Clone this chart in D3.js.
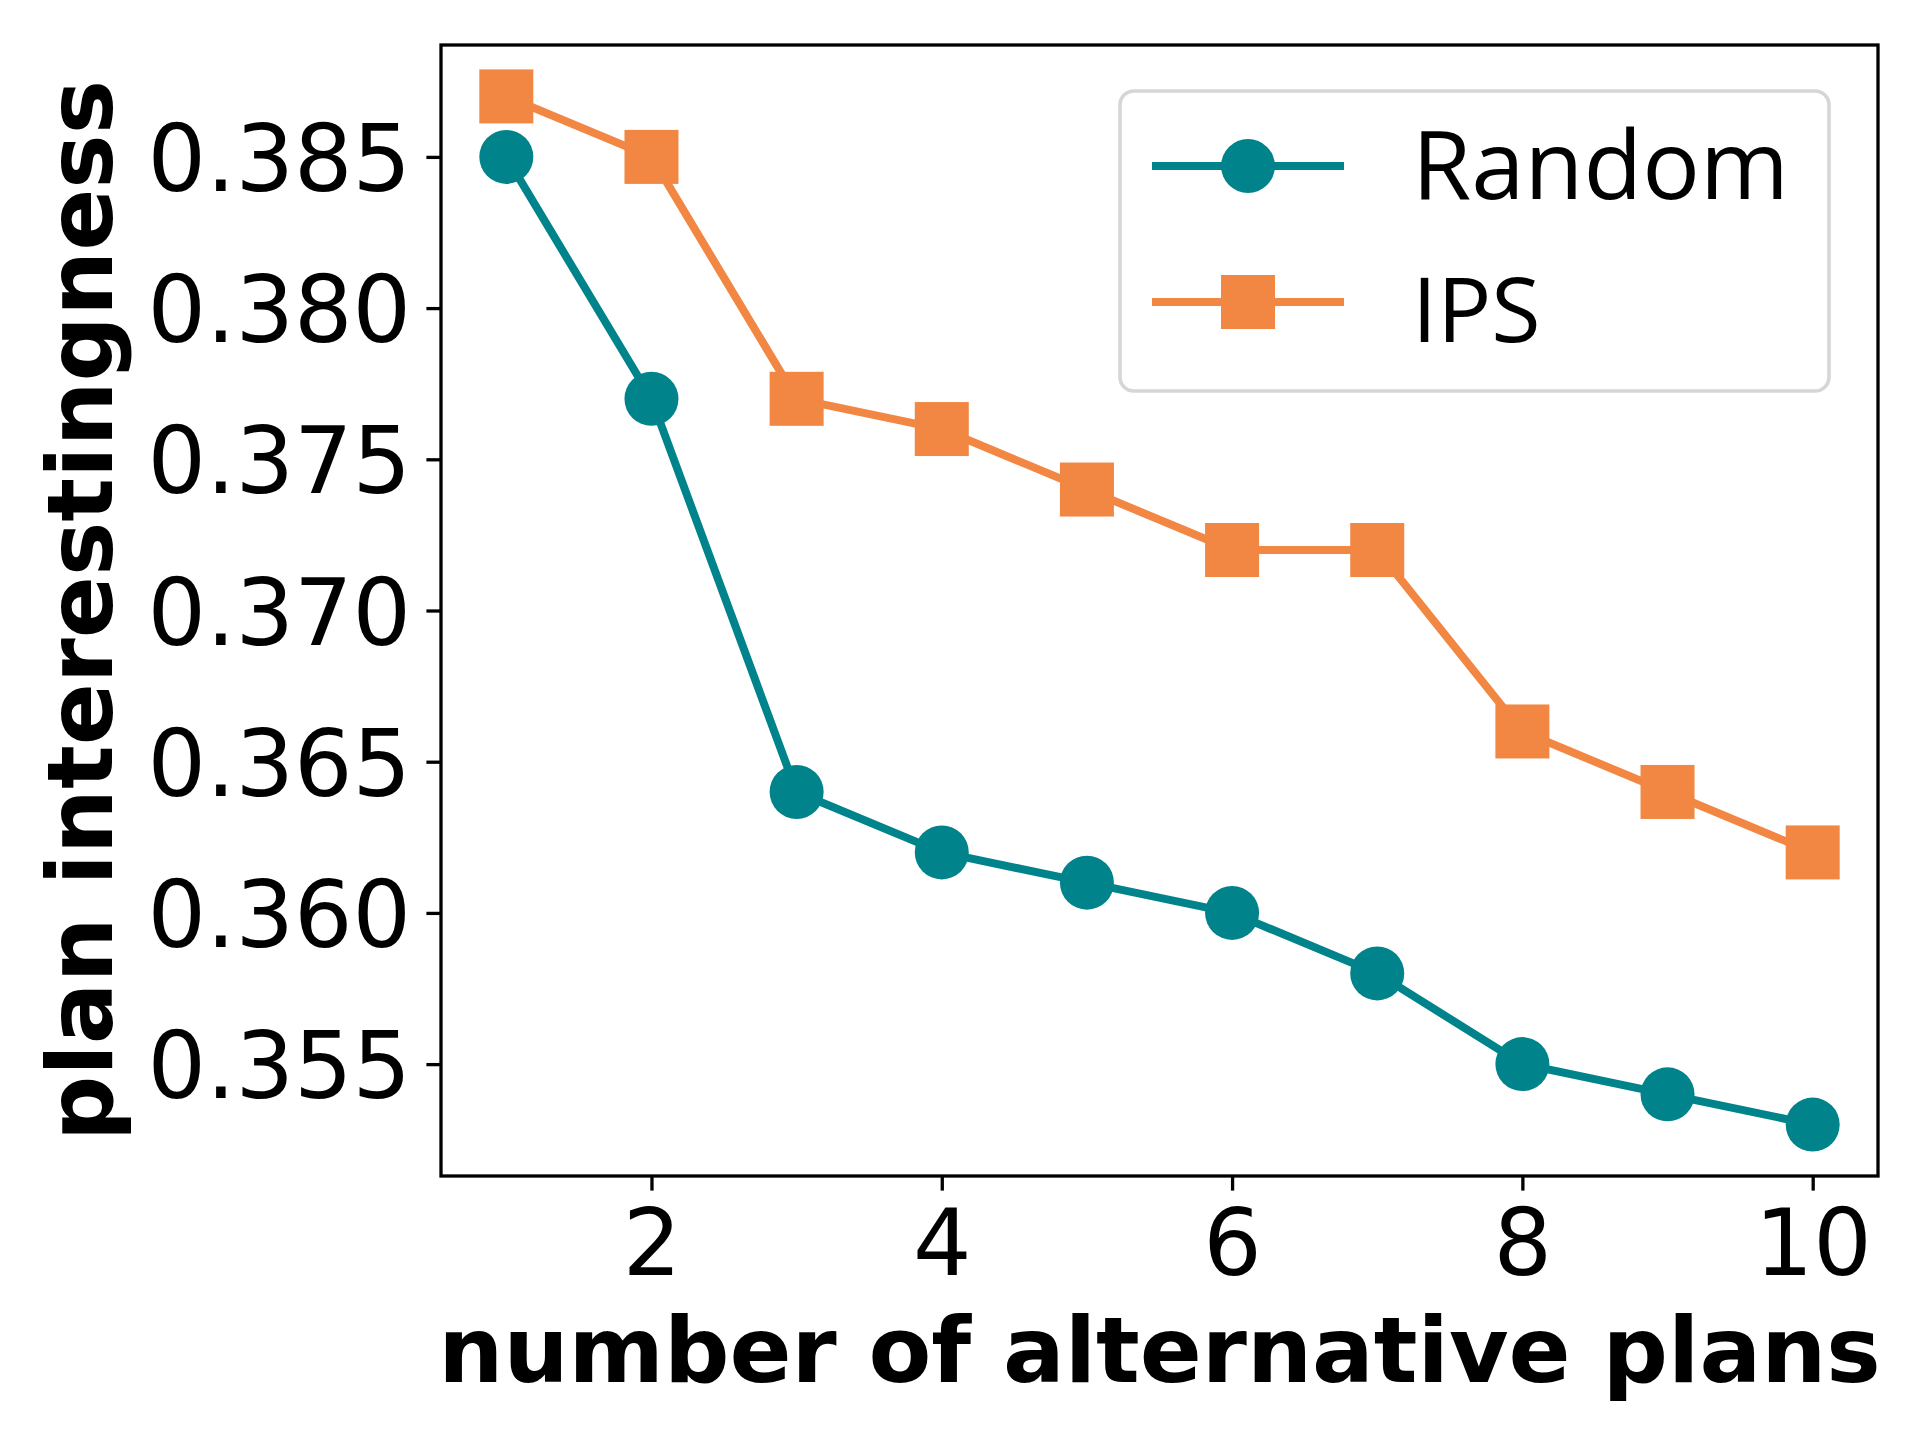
<!DOCTYPE html>
<html>
<head>
<meta charset="utf-8">
<script src="https://cdn.jsdelivr.net/npm/d3@7"></script>
<style>
  body { margin: 0; background: #fff; }
  svg { display: block; font-family: "DejaVu Sans", sans-serif; }
</style>
</head>
<body>
<div id="chart"></div>
<script>
// data
const plans = [1, 2, 3, 4, 5, 6, 7, 8, 9, 10];
const randomVals = [0.385, 0.377, 0.364, 0.362, 0.361, 0.360, 0.358, 0.355, 0.354, 0.353];
const ipsVals = [0.387, 0.385, 0.377, 0.376, 0.374, 0.372, 0.372, 0.366, 0.364, 0.362];
const xTicks = [2, 4, 6, 8, 10];
const yTicks = [0.355, 0.360, 0.365, 0.370, 0.375, 0.380, 0.385];
const seriesNames = ["Random", "IPS"];

const width = 1920, height = 1440;
const plot = {left: 441, right: 1878, top: 45, bottom: 1176};
const teal = "#00838a", orange = "#f18743";
const tickFont = 92, labelFont = 91.5;

const svg = d3.select("#chart").append("svg")
    .attr("width", width)
    .attr("height", height);

// matplotlib style 5% margins
const x = d3.scaleLinear().domain([0.55, 10.45]).range([plot.left, plot.right]);
const yPad = (0.387 - 0.353) * 0.05;
const y = d3.scaleLinear().domain([0.353 - yPad, 0.387 + yPad]).range([plot.bottom, plot.top]);

// axes
const xAxis = g => g
    .attr("transform", `translate(0,${plot.bottom})`)
    .call(d3.axisBottom(x).tickValues(xTicks).tickSize(14.6).tickPadding(0).tickFormat(d3.format("d")))
    .call(g => g.select(".domain").remove())
    .call(g => g.selectAll(".tick line").attr("stroke", "#000").attr("stroke-width", 3.3))
    .call(g => g.selectAll(".tick text")
        .attr("y", 99).attr("dy", null)
        .attr("font-size", tickFont).attr("fill", "#000")
        .attr("font-family", "DejaVu Sans"));

const yAxis = g => g
    .attr("transform", `translate(${plot.left},0)`)
    .call(d3.axisLeft(y).tickValues(yTicks).tickSize(14.6).tickPadding(0).tickFormat(d3.format(".3f")))
    .call(g => g.select(".domain").remove())
    .call(g => g.selectAll(".tick line").attr("stroke", "#000").attr("stroke-width", 3.3))
    .call(g => g.selectAll(".tick text")
        .attr("x", -30).attr("dy", null).attr("y", tickFont * 0.3645)
        .attr("font-size", tickFont).attr("fill", "#000")
        .attr("font-family", "DejaVu Sans"));

svg.append("g").call(xAxis);
svg.append("g").call(yAxis);

// lines + markers
const line = d3.line()
    .x((d, i) => x(plans[i]))
    .y(d => y(d));

svg.append("path")
    .datum(randomVals)
    .attr("fill", "none")
    .attr("stroke", teal)
    .attr("stroke-width", 8)
    .attr("stroke-linejoin", "round")
    .attr("d", line);

svg.append("g")
  .selectAll("circle")
  .data(randomVals)
  .enter().append("circle")
    .attr("cx", (d, i) => x(plans[i]))
    .attr("cy", d => y(d))
    .attr("r", 27)
    .attr("fill", teal);

svg.append("path")
    .datum(ipsVals)
    .attr("fill", "none")
    .attr("stroke", orange)
    .attr("stroke-width", 8)
    .attr("stroke-linejoin", "round")
    .attr("d", line);

svg.append("g")
  .selectAll("rect")
  .data(ipsVals)
  .enter().append("rect")
    .attr("x", (d, i) => x(plans[i]) - 27)
    .attr("y", d => y(d) - 27)
    .attr("width", 54)
    .attr("height", 54)
    .attr("fill", orange);

// frame
svg.append("rect")
    .attr("x", plot.left)
    .attr("y", plot.top)
    .attr("width", plot.right - plot.left)
    .attr("height", plot.bottom - plot.top)
    .attr("fill", "none")
    .attr("stroke", "#000")
    .attr("stroke-width", 3.3);

// legend
const legend = svg.append("g");
legend.append("rect")
    .attr("x", 1120).attr("y", 91)
    .attr("width", 709).attr("height", 300)
    .attr("rx", 14)
    .attr("fill", "#fff").attr("fill-opacity", 0.8)
    .attr("stroke", "#d6d6d6").attr("stroke-width", 3.6);

const rows = [166, 302];
const baselines = [199, 342];
const legendSizes = [96, 90];
const colors = [teal, orange];
seriesNames.forEach((name, i) => {
    const cy = rows[i];
    legend.append("line")
        .attr("x1", 1152).attr("x2", 1344)
        .attr("y1", cy).attr("y2", cy)
        .attr("stroke", colors[i]).attr("stroke-width", 8);
    if (i === 0) {
        legend.append("circle").attr("cx", 1248).attr("cy", cy).attr("r", 27).attr("fill", colors[i]);
    } else {
        legend.append("rect").attr("x", 1221).attr("y", cy - 27).attr("width", 54).attr("height", 54).attr("fill", colors[i]);
    }
    legend.append("text")
        .attr("x", 1412).attr("y", baselines[i])
        .attr("font-family", "Open Sans")
        .attr("font-size", legendSizes[i])
        .attr("fill", "#000")
        .text(name);
});

// axis titles
svg.append("text")
    .attr("x", (plot.left + plot.right) / 2)
    .attr("y", 1382)
    .attr("text-anchor", "middle")
    .attr("font-size", labelFont)
    .attr("font-weight", "bold")
    .text("number of alternative plans");

svg.append("text")
    .attr("transform", `translate(112,${(plot.top + plot.bottom) / 2}) rotate(-90)`)
    .attr("text-anchor", "middle")
    .attr("font-size", labelFont)
    .attr("font-weight", "bold")
    .text("plan interestingness");
</script>
</body>
</html>
